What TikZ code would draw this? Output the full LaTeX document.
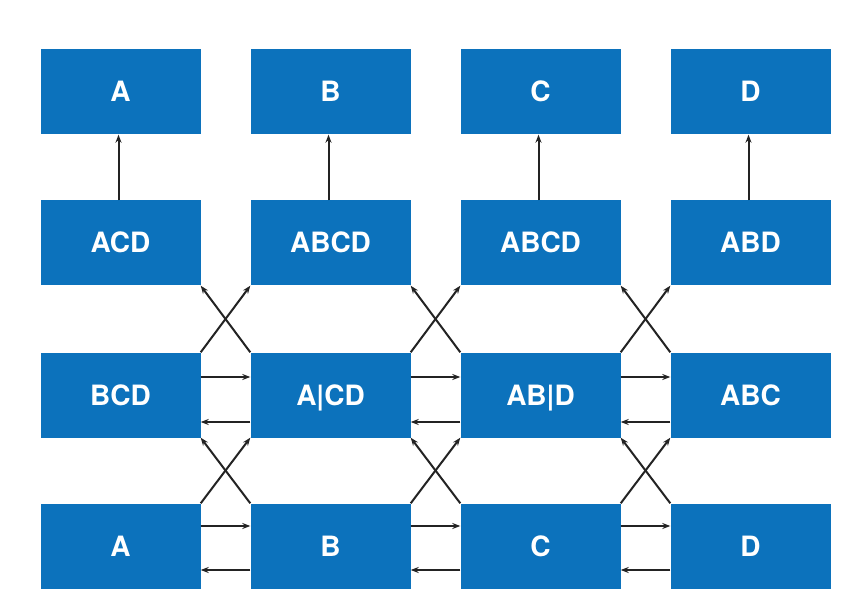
\documentclass[tikz,border=0pt]{standalone}
\usepackage{fontspec}
\setmainfont{TeX Gyre Heros}
\usetikzlibrary{arrows.meta}
\definecolor{boxblue}{RGB}{12,114,188}
\definecolor{arrowgray}{RGB}{35,35,35}
\begin{document}
\begin{tikzpicture}[x=1pt,y=1pt,
  blk/.style={rectangle,fill=boxblue,minimum width=160pt,minimum height=85pt,inner sep=0pt,
    text=white,font=\fontsize{28}{32}\selectfont\bfseries,text height=20pt,text depth=0pt},
  conn/.style={draw=arrowgray,line width=2pt,-{Stealth[length=8pt,width=6pt]}}
]
\useasboundingbox (0,0) rectangle (861,611);
\fill[white] (0,0) rectangle (861,611);
% row 1
\node[blk] (a1) at (120.5,519) {A};
\node[blk] (b1) at (330.5,519) {B};
\node[blk] (c1) at (540.5,519) {C};
\node[blk] (d1) at (750.5,519) {D};
% row 2
\node[blk] (a2) at (120.5,368) {ACD};
\node[blk] (b2) at (330.5,368) {ABCD};
\node[blk] (c2) at (540.5,368) {ABCD};
\node[blk] (d2) at (750.5,368) {ABD};
% row 3
\node[blk] (a3) at (120.5,216) {BCD};
\node[blk] (b3) at (330.5,216) {A|CD};
\node[blk] (c3) at (540.5,216) {AB|D};
\node[blk] (d3) at (750.5,216) {ABC};
% row 4
\node[blk] (a4) at (120.5,65) {A};
\node[blk] (b4) at (330.5,65) {B};
\node[blk] (c4) at (540.5,65) {C};
\node[blk] (d4) at (750.5,65) {D};
% vertical arrows
\foreach \n in {a,b,c,d}{
  \draw[conn] ([xshift=-2pt]\n2.north) -- ([xshift=-2pt]\n1.south);
}
% horizontal arrows
\foreach \l/\r in {a/b,b/c,c/d}{
  \draw[conn] ([yshift=18pt]\l3.east) -- ([yshift=18pt]\r3.west);
  \draw[conn] ([yshift=-27pt]\r3.west) -- ([yshift=-27pt]\l3.east);
  \draw[conn] ([yshift=20pt]\l4.east) -- ([yshift=20pt]\r4.west);
  \draw[conn] ([yshift=-24pt]\r4.west) -- ([yshift=-24pt]\l4.east);
}
% crossing arrows
\foreach \l/\r in {a/b,b/c,c/d}{
  \draw[conn] (\l3.north east) -- (\r2.south west);
  \draw[conn] (\r3.north west) -- (\l2.south east);
  \draw[conn] (\l4.north east) -- (\r3.south west);
  \draw[conn] (\r4.north west) -- (\l3.south east);
}
\end{tikzpicture}
\end{document}
